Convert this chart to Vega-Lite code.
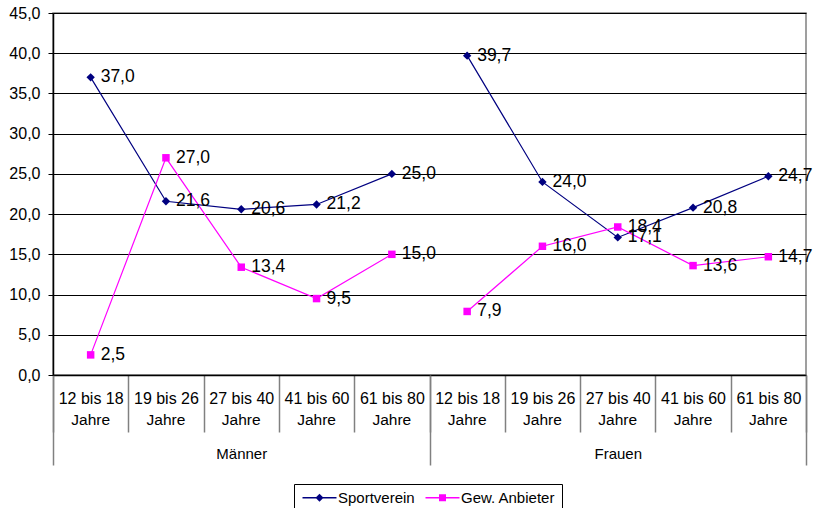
{
  "$schema": "https://vega.github.io/schema/vega-lite/v6.json",
  "width": 753,
  "height": 362,
  "autosize": {"type": "none"},
  "padding": {"left": 53, "top": 13, "right": 8, "bottom": 133},
  "background": "white",
  "config": {
    "font": "Liberation Sans",
    "locale": {"number": {"decimal": ",", "thousands": ".", "grouping": [3], "currency": ["", " €"]}},
    "view": {"stroke": "#808080", "strokeWidth": 1.5}
  },
  "data": {
    "values": [
      {"group": "Männer", "age": "12 bis 18", "series": "Sportverein", "value": 37.0},
      {"group": "Männer", "age": "19 bis 26", "series": "Sportverein", "value": 21.6},
      {"group": "Männer", "age": "27 bis 40", "series": "Sportverein", "value": 20.6},
      {"group": "Männer", "age": "41 bis 60", "series": "Sportverein", "value": 21.2},
      {"group": "Männer", "age": "61 bis 80", "series": "Sportverein", "value": 25.0},
      {"group": "Frauen", "age": "12 bis 18", "series": "Sportverein", "value": 39.7},
      {"group": "Frauen", "age": "19 bis 26", "series": "Sportverein", "value": 24.0},
      {"group": "Frauen", "age": "27 bis 40", "series": "Sportverein", "value": 17.1},
      {"group": "Frauen", "age": "41 bis 60", "series": "Sportverein", "value": 20.8},
      {"group": "Frauen", "age": "61 bis 80", "series": "Sportverein", "value": 24.7},
      {"group": "Männer", "age": "12 bis 18", "series": "Gew. Anbieter", "value": 2.5},
      {"group": "Männer", "age": "19 bis 26", "series": "Gew. Anbieter", "value": 27.0},
      {"group": "Männer", "age": "27 bis 40", "series": "Gew. Anbieter", "value": 13.4},
      {"group": "Männer", "age": "41 bis 60", "series": "Gew. Anbieter", "value": 9.5},
      {"group": "Männer", "age": "61 bis 80", "series": "Gew. Anbieter", "value": 15.0},
      {"group": "Frauen", "age": "12 bis 18", "series": "Gew. Anbieter", "value": 7.9},
      {"group": "Frauen", "age": "19 bis 26", "series": "Gew. Anbieter", "value": 16.0},
      {"group": "Frauen", "age": "27 bis 40", "series": "Gew. Anbieter", "value": 18.4},
      {"group": "Frauen", "age": "41 bis 60", "series": "Gew. Anbieter", "value": 13.6},
      {"group": "Frauen", "age": "61 bis 80", "series": "Gew. Anbieter", "value": 14.7}
    ]
  },
  "transform": [{"calculate": "datum.group + '|' + datum.age", "as": "slot"}],
  "resolve": {"scale": {"x": "independent"}, "axis": {"x": "independent"}},
  "layer": [
    {
      "encoding": {
        "x": {
          "field": "slot",
          "type": "nominal",
          "bandPosition": 0.5,
          "scale": {
            "type": "band",
            "paddingInner": 0,
            "paddingOuter": 0,
            "domain": ["Männer|12 bis 18", "Männer|19 bis 26", "Männer|27 bis 40", "Männer|41 bis 60", "Männer|61 bis 80",
                       "Frauen|12 bis 18", "Frauen|19 bis 26", "Frauen|27 bis 40", "Frauen|41 bis 60", "Frauen|61 bis 80"]
          },
          "axis": {
            "title": null,
            "orient": "bottom",
            "domainColor": "black",
            "domainWidth": 1.5,
            "tickBand": "extent",
            "tickSize": 57,
            "tickColor": "#808080",
            "tickWidth": 1.5,
            "labelExpr": "split(datum.value, '|')[1]",
            "labelAngle": 0,
            "labelFontSize": 16,
            "labelColor": "black",
            "labelPadding": -42,
            "labelOverlap": false,
            "labelBound": false,
            "labelFlush": false
          }
        },
        "y": {
          "field": "value",
          "type": "quantitative",
          "scale": {"domain": [0, 45], "nice": false, "zero": true},
          "axis": {
            "title": null,
            "values": [0, 5, 10, 15, 20, 25, 30, 35, 40, 45],
            "format": ".1f",
            "grid": true,
            "gridColor": "black",
            "gridWidth": 1,
            "gridOpacity": 1,
            "domainColor": "black",
            "domainWidth": 1.5,
            "tickColor": "black",
            "tickSize": 5,
            "labelFontSize": 16,
            "labelColor": "black",
            "labelPadding": 8
          }
        }
      },
      "layer": [
        {
          "transform": [{"filter": "datum.series === 'Sportverein'"}],
          "mark": {"type": "line", "strokeWidth": 1.2, "color": "#000080"},
          "encoding": {"detail": {"field": "group", "type": "nominal"}}
        },
        {
          "transform": [{"filter": "datum.series === 'Gew. Anbieter'"}],
          "mark": {"type": "line", "strokeWidth": 1.2, "color": "#FF00FF"},
          "encoding": {"detail": {"field": "group", "type": "nominal"}}
        },
        {
          "transform": [{"filter": "datum.series === 'Sportverein'"}],
          "mark": {"type": "point", "shape": "diamond", "filled": true, "opacity": 1, "size": 70, "color": "#000080"},
          "encoding": {}
        },
        {
          "transform": [{"filter": "datum.series === 'Gew. Anbieter'"}],
          "mark": {"type": "point", "shape": "square", "filled": true, "opacity": 1, "size": 56, "color": "#FF00FF"},
          "encoding": {}
        },
        {
          "mark": {"type": "text", "align": "left", "baseline": "middle", "dx": 10, "fontSize": 17.5, "color": "black"},
          "encoding": {
            "text": {"field": "value", "type": "quantitative", "format": ".1f"}
          }
        },
        {
          "transform": [{"filter": "datum.value < 0"}],
          "mark": {"type": "point", "filled": true, "opacity": 1},
          "encoding": {
            "color": {
              "field": "series",
              "type": "nominal",
              "scale": {"domain": ["Sportverein", "Gew. Anbieter"], "range": ["#000080", "#FF00FF"]},
              "legend": {
                "title": null,
                "orient": "none",
                "direction": "horizontal",
                "legendX": 241,
                "legendY": 471,
                "padding": 6,
                "strokeColor": "black",
                "fillColor": "white",
                "columnPadding": 8,
                "symbolSize": 100,
                "symbolStrokeWidth": 0,
                "labelOffset": 23,
                "labelFontSize": 15,
                "labelColor": "black"
              }
            },
            "shape": {
              "field": "series",
              "type": "nominal",
              "scale": {
                "domain": ["Sportverein", "Gew. Anbieter"],
                "range": ["M-1,-0.13H5.8V0.13H-1Z M2.4,-0.8L3.2,0L2.4,0.8L1.6,0Z", "M-1,-0.13H5.8V0.13H-1Z M1.7,-0.7H3.1V0.7H1.7Z"]
              },
              "legend": {
                "title": null,
                "orient": "none",
                "direction": "horizontal",
                "legendX": 241,
                "legendY": 471,
                "padding": 6,
                "strokeColor": "black",
                "fillColor": "white",
                "columnPadding": 8,
                "symbolSize": 100,
                "symbolStrokeWidth": 0,
                "labelOffset": 23,
                "labelFontSize": 15,
                "labelColor": "black"
              }
            }
          }
        }
      ]
    },
    {
      "mark": {"type": "point", "opacity": 0},
      "encoding": {
        "x": {
          "field": "slot",
          "type": "nominal",
          "scale": {
            "type": "band",
            "paddingInner": 0,
            "paddingOuter": 0,
            "domain": ["Männer|12 bis 18", "Männer|19 bis 26", "Männer|27 bis 40", "Männer|41 bis 60", "Männer|61 bis 80",
                       "Frauen|12 bis 18", "Frauen|19 bis 26", "Frauen|27 bis 40", "Frauen|41 bis 60", "Frauen|61 bis 80"]
          },
          "axis": {
            "title": null,
            "orient": "bottom",
            "domain": false,
            "ticks": false,
            "labelExpr": "'Jahre'",
            "labelAngle": 0,
            "labelFontSize": 15.5,
            "labelColor": "black",
            "labelPadding": 37,
            "labelOverlap": false,
            "labelBound": false,
            "labelFlush": false
          }
        }
      }
    },
    {
      "mark": {"type": "point", "opacity": 0},
      "encoding": {
        "x": {
          "field": "group",
          "type": "nominal",
          "scale": {"type": "band", "paddingInner": 0, "paddingOuter": 0, "domain": ["Männer", "Frauen"]},
          "axis": {
            "title": null,
            "orient": "bottom",
            "domain": false,
            "tickBand": "extent",
            "tickSize": 90,
            "tickColor": "#808080",
            "tickWidth": 1.5,
            "labelAngle": 0,
            "labelFontSize": 15,
            "labelColor": "black",
            "labelPadding": -19,
            "labelOverlap": false,
            "labelBound": false,
            "labelFlush": false
          }
        }
      }
    }
  ]
}
